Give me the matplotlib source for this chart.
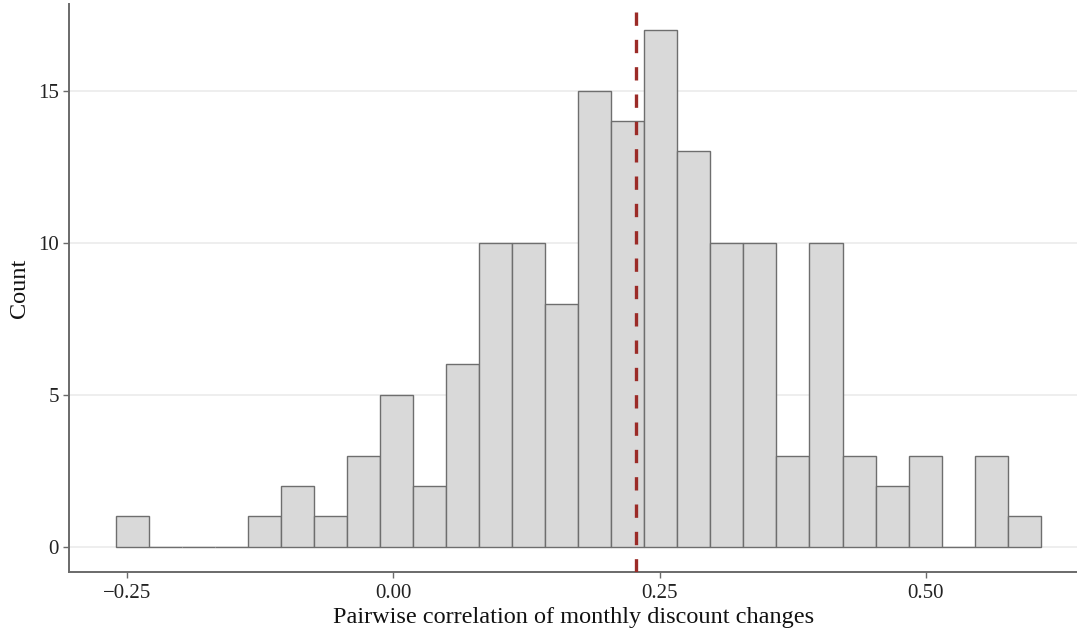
"""Histogram of pairwise correlations of monthly discount changes."""

import matplotlib

matplotlib.use("Agg")
import matplotlib.pyplot as plt
import numpy as np

# bin counts, left to right
counts = [1, 0, 0, 0, 1, 2, 1, 3, 5, 2, 6, 10, 10, 8, 15, 14, 17, 13,
          10, 10, 3, 10, 3, 2, 3, 0, 3, 1]
bin_lo = -0.261
bin_hi = 0.608
mean_corr = 0.2276

x_ticks = [-0.25, 0.0, 0.25, 0.50]
x_tick_labels = ["\u22120.25", "0.00", "0.25", "0.50"]
y_ticks = [0, 5, 10, 15]

plt.rcParams["font.family"] = ["Liberation Serif", "DejaVu Serif"]

edges = np.linspace(bin_lo, bin_hi, len(counts) + 1)
width = edges[1] - edges[0]

fig = plt.figure(figsize=(10.77, 6.30), dpi=100)
ax = fig.add_axes([0.0643, 0.0925, 1 - 0.0643, 0.9012])

ax.grid(True, axis="y", color="#ebebeb", linewidth=1.2, zorder=0)
ax.set_axisbelow(True)

ax.bar(edges[:-1], counts, width=width, align="edge",
       color="#d9d9d9", edgecolor="#6e6e6e", linewidth=1.0, zorder=2)

ax.axvline(mean_corr, color="#9b2b27", linewidth=2.4,
           linestyle=(0, (4.0, 4.2)), zorder=3)

ax.set_xlim(-0.3045, 0.642)
ax.set_ylim(-0.82, 17.85)
ax.set_xticks(x_ticks)
ax.set_xticklabels(x_tick_labels)
ax.set_yticks(y_ticks)

for side in ["top", "right"]:
    ax.spines[side].set_visible(False)
for side in ["left", "bottom"]:
    ax.spines[side].set_color("#6a6a6a")
    ax.spines[side].set_linewidth(1.4)

ax.tick_params(axis="both", colors="#6a6a6a", labelcolor="#222222",
               labelsize=15, length=4, width=1.0)
ax.tick_params(axis="x", pad=5)

ax.set_xlabel("Pairwise correlation of monthly discount changes",
              fontsize=17.5, color="#111111", labelpad=3)
ax.set_ylabel("Count", fontsize=17.5, color="#111111", labelpad=6)

fig.savefig("out.png", dpi=100)
plt.close(fig)
